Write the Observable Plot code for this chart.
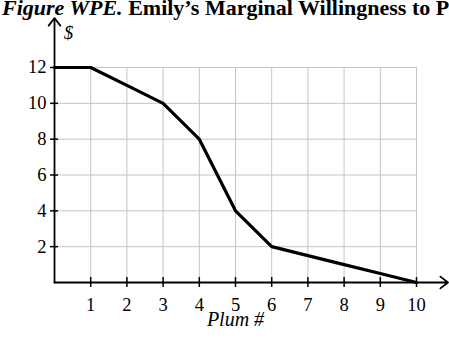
<!DOCTYPE html>
<html>
<head>
<meta charset="utf-8">
<script src="https://cdn.jsdelivr.net/npm/d3@7"></script>
<script src="https://cdn.jsdelivr.net/npm/@observablehq/plot@0.6"></script>
<style>
  html, body { margin: 0; padding: 0; background: #fff; overflow: hidden; width: 449px; height: 338px; }
  #title { height: 18px; font: bold 22px "Liberation Serif", "Times New Roman", serif; line-height: 16px; white-space: nowrap; overflow: visible; padding-left: 2px; color: #000; }
  #chart svg { display: block; }
  #chart svg, #chart svg text { font-family: "Liberation Serif", "Times New Roman", serif !important; }
</style>
</head>
<body>
<div id="title"><i>Figure WPE.</i> Emily’s Marginal Willingness to Pay for Plums</div>
<div id="chart"></div>
<script>
const plums = [0, 1, 2, 3, 4, 5, 6, 7, 8, 9, 10];
const willingness = [12, 12, 11, 10, 8, 4, 2, 1.5, 1, 0.5, 0];
const xTicks = [1, 2, 3, 4, 5, 6, 7, 8, 9, 10];
const yTicks = [2, 4, 6, 8, 10, 12];
const xLabel = "Plum #";
const yLabel = "$";

const data = plums.map((p, i) => ({plum: p, value: willingness[i]}));
const xMax = 10, yMax = 12;

const font = "Liberation Serif";

const chart = Plot.plot({
  width: 449,
  height: 320,
  marginLeft: 54,
  marginRight: 33,
  marginTop: 49,
  marginBottom: 56,
  style: {fontFamily: font, fontSize: "18px", background: "#fff", color: "#000", overflow: "visible"},
  x: {domain: [0, xMax], axis: null},
  y: {domain: [0, yMax], axis: null},
  marks: [
    Plot.gridX(xTicks, {stroke: "#c4c4c4", strokeOpacity: 1, strokeWidth: 1}),
    Plot.gridY(yTicks, {stroke: "#c4c4c4", strokeOpacity: 1, strokeWidth: 1}),
    Plot.line(data, {x: "plum", y: "value", stroke: "#000", strokeWidth: 3.2, strokeLinejoin: "miter"}),
    // axis lines with arrows
    Plot.arrow([{x1: 0, y1: 0, x2: 0, y2: yMax * 1.23}], {x1: "x1", y1: "y1", x2: "x2", y2: "y2", stroke: "#000", strokeWidth: 1.8, headLength: 8, headAngle: 75, clip: false}),
    Plot.arrow([{x1: 0, y1: 0, x2: xMax * 1.087, y2: 0}], {x1: "x1", y1: "y1", x2: "x2", y2: "y2", stroke: "#000", strokeWidth: 1.8, headLength: 8, headAngle: 75, clip: false}),
    Plot.axisY(yTicks, {anchor: "left", tickSize: 8, tickPadding: 4, dx: 4, label: null, fontSize: 18.5, fontFamily: font, tickFormat: d => String(d), strokeWidth: 1.5}),
    Plot.axisX(xTicks, {anchor: "bottom", tickSize: 10, tickPadding: 10, dy: -5, label: null, fontSize: 18.5, fontFamily: font, tickFormat: d => String(d), strokeWidth: 1.5}),
    Plot.text([xLabel], {x: xMax / 2, y: 0, text: d => d, dy: 37, fontSize: 20, fontFamily: font, fontStyle: "italic"}),
    Plot.text([yLabel], {x: 0, y: yMax, text: d => d, dx: 14, dy: -35, fontSize: 19, fontFamily: font, fontStyle: "italic"})
  ]
});
document.getElementById("chart").appendChild(chart);
</script>
</body>
</html>
